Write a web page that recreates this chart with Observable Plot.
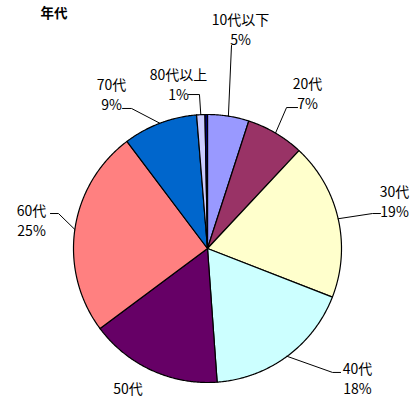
<!DOCTYPE html>
<html><head><meta charset="utf-8">
<script src="https://cdn.jsdelivr.net/npm/d3@7"></script>
<script src="https://cdn.jsdelivr.net/npm/@observablehq/plot@0.6"></script>
<style>body{margin:0;background:#fff;font-family:"Noto Sans CJK JP",sans-serif;}</style>
</head><body><div id="chart"></div>
<script>
// ---- data ----
const title = "年代";
const categories = ["10代以下","20代","30代","40代","50代","60代","70代","80代以上","不明"];
const shares = [5, 7, 19, 18, 16, 25, 9, 1, 0.3];
const nameLabels = ["10代以下","20代","30代","40代","50代","60代","70代","80代以上",""];
const pctLabels = ["5%","7%","19%","18%","","25%","9%","1%",""];
const colors = ["#9999FF","#993366","#FFFFCC","#CCFFFF","#660066","#FF8080","#0066CC","#CCCCFF","#000080"];

// ---- label layout (in pie-radius units), manual like the original ----
const labelLayout = {
  "10代以下": {lx: 0.246, ly: 1.638, elbow: [[0.179, 1.515]]},
  "20代":     {lx: 0.746, ly: 1.160, elbow: [[0.590, 1.052],[0.672, 1.052]]},
  "30代":     {lx: 1.396, ly: 0.358, elbow: [[1.231, 0.261],[1.291, 0.261]]},
  "40代":     {lx: 1.119, ly: -0.966, elbow: [[0.933, -0.925],[0.993, -0.925]]},
  "50代":     {lx: -0.593, ly: -1.037, elbow: null},
  "60代":     {lx: -1.313, ly: 0.216, elbow: [[-1.112, 0.261],[-1.172, 0.261]]},
  "70代":     {lx: -0.716, ly: 1.153, elbow: [[-0.567, 1.045],[-0.634, 1.045]]},
  "80代以上": {lx: -0.216, ly: 1.231, elbow: [[-0.060, 1.149],[-0.142, 1.149]]}
};

const arcs = d3.pie().sort(null).value(d => d)(shares);

const slices = [];
const leaders = [];
const labels = [];
arcs.forEach((a, i) => {
  const name = categories[i];
  const n = Math.max(2, Math.ceil((a.endAngle - a.startAngle) / (Math.PI / 360)));
  slices.push({name, x: 0, y: 0});
  for (let k = 0; k <= n; k++) {
    const t = a.startAngle + (a.endAngle - a.startAngle) * k / n;
    slices.push({name, x: Math.sin(t), y: Math.cos(t)});
  }
  slices.push({name, x: 0, y: 0});
  const L = labelLayout[name];
  if (L) {
    const txt = pctLabels[i] ? nameLabels[i] + "\n" + pctLabels[i] : nameLabels[i];
    labels.push({x: L.lx, y: L.ly, text: txt});
    if (L.elbow) {
      const mid = (a.startAngle + a.endAngle) / 2;
      leaders.push({name, x: Math.sin(mid), y: Math.cos(mid)});
      L.elbow.forEach(([ex, ey]) => leaders.push({name, x: ex, y: ey}));
    }
  }
});

const chart = Plot.plot({
  width: 419,
  height: 400,
  margin: 0,
  style: {fontFamily: "'Noto Sans CJK JP', sans-serif", background: "#fff"},
  x: {domain: [-1, 1], range: [73, 341], axis: null},
  y: {domain: [-1, 1], range: [382, 114], axis: null},
  color: {domain: categories, range: colors},
  marks: [
    Plot.line(slices, {x: "x", y: "y", z: "name", fill: "name", stroke: "black", strokeWidth: 1.2, strokeLinejoin: "round"}),
    Plot.line(leaders, {x: "x", y: "y", z: "name", stroke: "black", strokeWidth: 1}),
    Plot.text(labels, {x: "x", y: "y", text: "text", fontSize: 14, lineHeight: 1.43, fill: "black"}),
    Plot.text([title], {text: d => d, frameAnchor: "top-left", dx: 40, dy: 8, fontSize: 13.5, fontWeight: "bold", fill: "black"})
  ]
});
document.getElementById("chart").append(chart);
</script>
</body></html>
